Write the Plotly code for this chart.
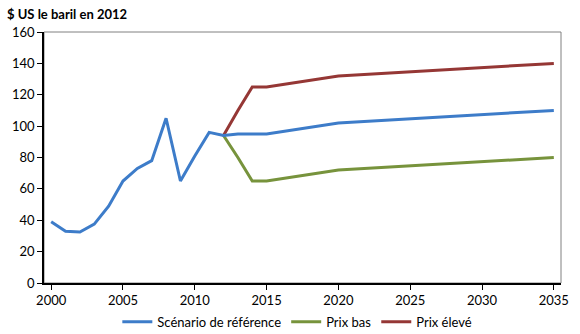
import plotly.graph_objects as go

hist_years = list(range(2000, 2013))
hist_vals = [39, 33, 32.5, 37.5, 49, 65, 73, 78, 105, 65, 81, 96, 94]

proj_years = [2012, 2013, 2014, 2015, 2020, 2035]
ref_vals = [94, 95, 95, 95, 102, 110]
low_vals = [94, 80, 65, 65, 72, 80]
high_vals = [94, 110, 125, 125, 132, 140]

x_ticks = [2000, 2005, 2010, 2015, 2020, 2025, 2030, 2035]
y_ticks = [0, 20, 40, 60, 80, 100, 120, 140, 160]

BLUE = "#3d7cc9"
GREEN = "#77933c"
RED = "#953735"
FONT = "Lato"

fig = go.Figure()
fig.add_trace(go.Scatter(x=proj_years, y=low_vals, mode="lines", name="Prix bas",
                         line=dict(color=GREEN, width=3), legendrank=2))
fig.add_trace(go.Scatter(x=proj_years, y=high_vals, mode="lines", name="Prix élevé",
                         line=dict(color=RED, width=3), legendrank=3))
fig.add_trace(go.Scatter(x=hist_years + proj_years[1:], y=hist_vals + ref_vals[1:], mode="lines",
                         name="Scénario de référence",
                         line=dict(color=BLUE, width=3), legendrank=1))

fig.update_layout(
    width=580, height=334,
    margin=dict(l=44, r=19, t=32, b=51, autoexpand=False),
    paper_bgcolor="white", plot_bgcolor="white",
    font=dict(family=FONT, size=13, color="#000000"),
    showlegend=True,
    legend=dict(orientation="h", x=0.49, xanchor="center", y=-0.095, yanchor="top",
                font=dict(family=FONT, size=13), tracegroupgap=0, itemwidth=30,
                traceorder="normal"),
    xaxis=dict(range=[1999.5, 2035.5], tickvals=x_ticks, ticks="outside", ticklen=5,
               tickcolor="black", showline=True, linecolor="black", linewidth=1.5,
               showgrid=False, zeroline=False, fixedrange=True),
    yaxis=dict(range=[0, 160], tickvals=y_ticks, ticks="outside", ticklen=5,
               tickcolor="black", showline=True, linecolor="black", linewidth=1.5,
               showgrid=False, zeroline=False, fixedrange=True),
)
fig.add_annotation(text="<b>$ US le baril en 2012</b>", xref="paper", yref="paper",
                   x=-39/517, y=1 + 18/251, xanchor="left", yanchor="middle",
                   showarrow=False, font=dict(family=FONT, size=13))
fig.add_shape(type="rect", xref="paper", yref="paper", x0=0, y0=0, x1=1, y1=1,
              line=dict(color="#808080", width=1), layer="below")

fig.write_html("out.html")
